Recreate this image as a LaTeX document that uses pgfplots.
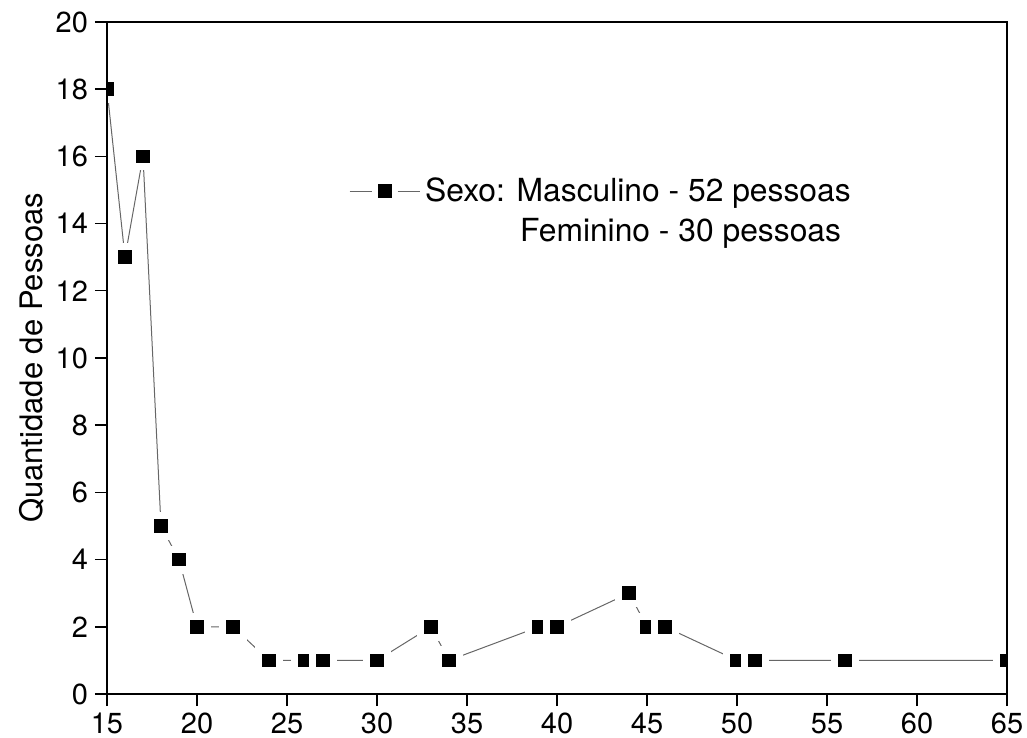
\documentclass[border=0pt]{standalone}
\usepackage{pgfplots}
\pgfplotsset{compat=1.18}
\usepackage{fontspec}
\setmainfont{TeX Gyre Heros}
\begin{document}
\begin{tikzpicture}
\begin{axis}[
  scale only axis,
  width=450pt, height=336pt,
  xmin=15, xmax=65, ymin=0, ymax=20,
  xtick={15,20,...,65}, ytick={0,2,...,20},
  axis on top,
  axis line style={line width=0.7pt},
  tick style={line width=0.7pt, black},
  tick align=outside,
  major tick length=6pt,
  xtick pos=bottom, ytick pos=left,
  /pgf/number format/assume math mode=true,
  ticklabel style={font=\fontsize{14.5}{16}\selectfont},
  ylabel={Quantidade de Pessoas},
  ylabel style={font=\fontsize{15.5}{18}\selectfont, yshift=-1pt},
  legend style={draw=none, fill=none, at={(axis cs:28.1,15.61)}, anchor=north west,
    font=\fontsize{15.9}{18}\selectfont, row sep=3pt},
  legend cell align=left,
  legend image code/.code={%
    \draw[gray!80!black, line width=0.5pt] (0pt,0pt) -- (11pt,0pt) (24pt,0pt) -- (35pt,0pt);
    \fill[black] (14.2pt,-3.3pt) rectangle (20.8pt,3.3pt);
    \path (35.5pt,0pt);},
  clip marker paths=true,
  clip=true,
]
\addplot[gray!80!black, line width=0.5pt, mark=square*, mark size=5.2pt,
  mark options={black, fill=black, draw=white, line width=3.6pt}] coordinates {
(15,18) (16,13) (17,16) (18,5) (19,4) (20,2) (22,2) (24,1) (26,1) (27,1)
(30,1) (33,2) (34,1) (39,2) (40,2) (44,3) (45,2) (46,2) (50,1) (51,1)
(56,1) (65,1)};
\addlegendentry{Sexo: Masculino - 52 pessoas}
\addlegendimage{empty legend}
\addlegendentry{\hspace*{47.5pt}Feminino - 30 pessoas}
\coordinate (ll) at (rel axis cs:0,0);
\coordinate (ur) at (rel axis cs:1,1);
\end{axis}
\pgfresetboundingbox
\path[use as bounding box] ([shift={(-53.5pt,-22pt)}]ll) rectangle ([shift={(10pt,11pt)}]ur);
\end{tikzpicture}
\end{document}
